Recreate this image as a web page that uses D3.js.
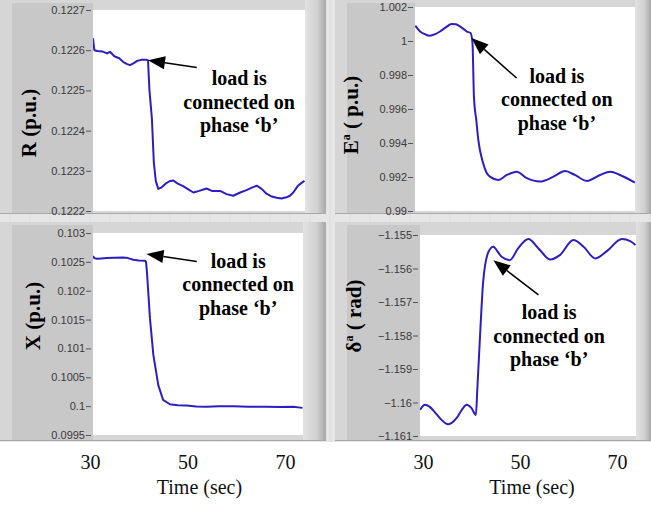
<!DOCTYPE html>
<html>
<head>
<meta charset="utf-8">
<script src="https://cdn.jsdelivr.net/npm/d3@7"></script>
<style>
  body { margin: 0; background: #fff; }
  svg { display: block; }
  .ytick text { font-family: "Liberation Sans", Arial, sans-serif; font-size: 11px; fill: #3a3a3a; }
  .ytick line { stroke: #555; }
  .xtick text { font-family: "Liberation Serif", "Times New Roman", serif; font-size: 20px; fill: #111; }
</style>
</head>
<body>
<div class="graph"></div>
<script>
// values
var timeR = [30.6, 30.9, 31.5, 32.5, 33.5, 34.1, 35.0, 36.0, 36.8, 37.5, 38.2, 39.0, 39.6, 40.5, 41.6, 41.9, 42.2, 42.7, 43.1, 43.5, 44.0, 44.6, 45.5, 46.3, 47.1, 48.0, 49.1, 50.0, 51.2, 52.4, 53.9, 55.0, 56.7, 58.0, 59.4, 60.8, 62.1, 63.2, 64.2, 65.2, 66.2, 67.3, 68.3, 69.3, 70.3, 71.0, 71.7, 72.6, 73.4, 74.0];
var valR = [0.12263, 0.12260, 0.122598, 0.122597, 0.122592, 0.122596, 0.122585, 0.12258, 0.122571, 0.122566, 0.122563, 0.122568, 0.122573, 0.122576, 0.122576, 0.122575, 0.1225, 0.12243, 0.12232, 0.122275, 0.122255, 0.122258, 0.122268, 0.122274, 0.122276, 0.122268, 0.122262, 0.122255, 0.122246, 0.12225, 0.122256, 0.12225, 0.12225, 0.122242, 0.122238, 0.122246, 0.122252, 0.122258, 0.122263, 0.122255, 0.122243, 0.122236, 0.122233, 0.122231, 0.122234, 0.122238, 0.122246, 0.122262, 0.12227, 0.122275];

var timeE = [28.4, 29.4, 30.4, 31.4, 32.5, 33.5, 34.7, 35.9, 36.8, 37.6, 38.4, 39.0, 39.8, 40.2, 40.5, 41.0, 41.4, 42.4, 43.1, 43.8, 45.5, 47.3, 49.3, 51.4, 54.1, 56.9, 59.3, 61.3, 63.8, 66.5, 68.6, 70.6, 73.7];
var valE = [1.0009, 1.00056, 1.0004, 1.00031, 1.0004, 1.00056, 1.0008, 1.001, 1.00098, 1.00086, 1.0007, 1.00056, 1.00047, 0.99988, 0.99673, 0.9953, 0.99418, 0.99281, 0.99225, 0.99202, 0.99183, 0.99212, 0.99231, 0.99193, 0.99173, 0.99202, 0.99235, 0.99212, 0.99177, 0.99212, 0.99231, 0.99212, 0.99167];

var timeX = [30.6, 30.9, 31.4, 32.4, 33.4, 35.0, 36.8, 37.8, 38.9, 40.0, 41.3, 41.5, 41.7, 42.3, 43.0, 44.0, 45.0, 46.4, 48.0, 49.8, 51.8, 53.9, 56.5, 59.4, 62.5, 66.2, 69.0, 71.7, 73.6];
var valX = [0.1026, 0.102565, 0.102554, 0.10256, 0.102566, 0.10257, 0.102577, 0.102565, 0.102537, 0.102525, 0.10252, 0.1025, 0.10231, 0.101525, 0.100888, 0.100368, 0.100107, 0.100033, 0.100015, 0.10001, 0.099995, 0.09999, 0.1, 0.1, 0.09999, 0.09999, 0.099985, 0.09999, 0.09997];

var timeD = [29.4, 30.4, 31.4, 32.5, 33.5, 35.2, 36.9, 38.0, 39.0, 40.0, 40.9, 41.2, 41.8, 42.4, 43.5, 44.5, 45.4, 46.2, 47.9, 49.6, 51.7, 53.8, 56.2, 58.2, 61.0, 63.1, 65.5, 67.9, 71.0, 72.7, 73.8];
var valD = [-1.16022, -1.16007, -1.16013, -1.1603, -1.16047, -1.16065, -1.16047, -1.16022, -1.16007, -1.16017, -1.16037, -1.15958, -1.15789, -1.15639, -1.1555, -1.15535, -1.1555, -1.15565, -1.15575, -1.1554, -1.15512, -1.1554, -1.15573, -1.1556, -1.15515, -1.15535, -1.1557, -1.15548, -1.15512, -1.15518, -1.1553];

var ticksR = [0.1222, 0.1223, 0.1224, 0.1225, 0.1226, 0.1227];
var ticksE = [0.99, 0.992, 0.994, 0.996, 0.998, 1, 1.002];
var ticksX = [0.0995, 0.1, 0.1005, 0.101, 0.1015, 0.102, 0.1025, 0.103];
var ticksD = [-1.161, -1.16, -1.159, -1.158, -1.157, -1.156, -1.155];
var timeTicks = [30, 50, 70];

var noteLines = ["load is", "connected on", "phase \u2018b\u2019"];

window.onload = () => {

  var width = 651, height = 505;

  var svg = d3.select(".graph").append("svg")
    .attr("width", width)
    .attr("height", height);

  var defs = svg.append("defs");
  var grad = defs.append("linearGradient").attr("id", "edge")
    .attr("x1", 0).attr("x2", 1).attr("y1", 0).attr("y2", 0);
  grad.append("stop").attr("offset", "0%").attr("stop-color", "#e2e2e2");
  grad.append("stop").attr("offset", "60%").attr("stop-color", "#d0d0d0");
  grad.append("stop").attr("offset", "100%").attr("stop-color", "#a8a8a8");

  // light back plate between the four charts
  svg.append("rect").attr("x", 0).attr("y", 0).attr("width", width).attr("height", 442)
    .attr("fill", "#e6e6e6");
  for (var gx = 10; gx < width; gx += 20) {
    svg.append("line").attr("x1", gx).attr("x2", gx).attr("y1", 0).attr("y2", 442)
      .attr("stroke", "#dcdcdc").attr("stroke-width", 1);
  }

  // panel boxes + plot areas
  var panels = [
    { box: [0, 0, 326, 214], plot: [93, 10, 305, 211], tdom: [30.62, 74.1], ydom: [0.1222, 0.1227],
      t: timeR, v: valR, ticks: ticksR, fmt: d3.format(".4f"), curve: d3.curveLinear,
      title: ["R (p.u.)", null, ""], tx: 36, ty: 123,
      tip: [41.9, 0.122575], tail: [51.9, 0.122557], note: [60.6, 0.122513] },
    { box: [335, 0, 651, 214], plot: [415, 7, 635, 211], tdom: [28.35, 73.7], ydom: [0.99, 1.002],
      t: timeE, v: valE, ticks: ticksE, fmt: d3.format("~g"), curve: d3.curveMonotoneX,
      title: ["E", "a", "( p.u.)"], tx: 358, ty: 115,
      tip: [40.0, 1.00017], tail: [49.3, 0.99782], note: [57.6, 0.99754] },
    { box: [0, 222, 326, 441], plot: [93, 233, 303, 435], tdom: [30.62, 73.7], ydom: [0.0995, 0.103],
      t: timeX, v: valX, ticks: ticksX, fmt: d3.format("~g"), curve: d3.curveLinear,
      title: ["X (p.u.)", null, ""], tx: 40, ty: 316,
      tip: [41.6, 0.102636], tail: [51.9, 0.102507], note: [60.4, 0.102398] },
    { box: [335, 222, 651, 441], plot: [420, 235, 636, 436], tdom: [29.38, 73.9], ydom: [-1.161, -1.155],
      t: timeD, v: valD, ticks: ticksD, fmt: d3.format("~g"), curve: d3.curveMonotoneX,
      title: ["\u03b4", "a", "( rad)"], tx: 361, ty: 316,
      tip: [44.5, -1.15575], tail: [53.8, -1.15679], note: [56.0, -1.15751] }
  ];

  var serif = "'Liberation Serif', 'Times New Roman', serif";

  panels.forEach(function (p, i) {
    var b = p.box, pl = p.plot;
    var g = svg.append("g");

    g.append("rect").attr("x", b[0]).attr("y", b[1]).attr("width", b[2] - b[0]).attr("height", b[3] - b[1])
      .attr("fill", "#d6d6d6");
    // darker strip behind the y labels
    g.append("rect").attr("x", b[0] + 12).attr("y", b[1] + 3).attr("width", pl[0] - b[0] - 12).attr("height", b[3] - b[1] - 3)
      .attr("fill", "#c8c8c8");
    // right edge shading
    g.append("rect").attr("x", pl[2]).attr("y", b[1]).attr("width", b[2] - pl[2]).attr("height", b[3] - b[1])
      .attr("fill", "url(#edge)");
    g.append("line").attr("x1", b[0]).attr("x2", b[2]).attr("y1", b[3] - 0.5).attr("y2", b[3] - 0.5)
      .attr("stroke", "#a9a9a9");

    g.append("rect").attr("x", pl[0]).attr("y", pl[1]).attr("width", pl[2] - pl[0]).attr("height", pl[3] - pl[1])
      .attr("fill", "#fff");

    var x = d3.scaleLinear().domain(p.tdom).range([pl[0], pl[2]]);
    var y = d3.scaleLinear().domain(p.ydom).range([pl[3], pl[1]]);

    var ax = g.append("g").attr("class", "ytick")
      .attr("transform", "translate(" + (pl[0] - 2) + ",0)")
      .call(d3.axisLeft(y).tickValues(p.ticks).tickFormat(p.fmt).tickSize(5).tickPadding(1));
    ax.select(".domain").remove();

    defs.append("clipPath").attr("id", "clip" + i)
      .append("rect").attr("x", pl[0]).attr("y", pl[1]).attr("width", pl[2] - pl[0]).attr("height", pl[3] - pl[1]);

    var pts = p.t.map(function (t, k) { return [t, p.v[k]]; });
    var line = d3.line().x(function (d) { return x(d[0]); }).y(function (d) { return y(d[1]); }).curve(p.curve);
    g.append("path").datum(pts)
      .attr("clip-path", "url(#clip" + i + ")")
      .attr("d", line)
      .attr("fill", "none")
      .attr("stroke", "#2b1fc4")
      .attr("stroke-width", 2)
      .attr("stroke-linejoin", "round");

    // y title
    var tt = g.append("text")
      .attr("transform", "translate(" + p.tx + "," + p.ty + ") rotate(-90)")
      .attr("text-anchor", "middle")
      .style("font-family", serif).style("font-weight", "bold").style("font-size", "21px").attr("fill", "#000");
    if (p.title[1]) {
      tt.append("tspan").text(p.title[0]);
      tt.append("tspan").text(p.title[1]).attr("dy", -8).style("font-size", "12px");
      tt.append("tspan").text(" " + p.title[2]).attr("dy", 8);
    } else {
      tt.text(p.title[0]);
    }

    // arrow annotation
    var x1 = x(p.tail[0]), y1 = y(p.tail[1]), x2 = x(p.tip[0]), y2 = y(p.tip[1]);
    var ang = Math.atan2(y2 - y1, x2 - x1), hl = 17, hw = 6.5;
    var bx = x2 - hl * Math.cos(ang), by = y2 - hl * Math.sin(ang);
    g.append("line").attr("x1", x1).attr("y1", y1).attr("x2", bx).attr("y2", by)
      .attr("stroke", "#000").attr("stroke-width", 1.5);
    g.append("path")
      .attr("d", "M" + x2 + "," + y2 +
        "L" + (bx + hw * Math.sin(ang)) + "," + (by - hw * Math.cos(ang)) +
        "L" + (bx - hw * Math.sin(ang)) + "," + (by + hw * Math.cos(ang)) + "Z")
      .attr("fill", "#000");

    var nt = g.append("text")
      .attr("text-anchor", "middle")
      .style("font-family", serif).style("font-weight", "bold").style("font-size", "20px").attr("fill", "#000");
    noteLines.forEach(function (s, k) {
      nt.append("tspan").attr("x", x(p.note[0])).attr("y", y(p.note[1]) + k * 23.5).text(s);
    });

    // time axis under the bottom charts
    if (i >= 2) {
      var xa = g.append("g").attr("class", "xtick")
        .attr("transform", "translate(0," + b[3] + ")")
        .call(d3.axisBottom(x).tickValues(timeTicks).tickSize(0).tickPadding(14));
      xa.select(".domain").remove();
      g.append("text")
        .attr("x", x(50) + 12).attr("y", b[3] + 53)
        .attr("text-anchor", "middle")
        .style("font-family", serif).style("font-size", "20px").attr("fill", "#111")
        .text("Time (sec)");
    }
  });
};
</script>
</body>
</html>
